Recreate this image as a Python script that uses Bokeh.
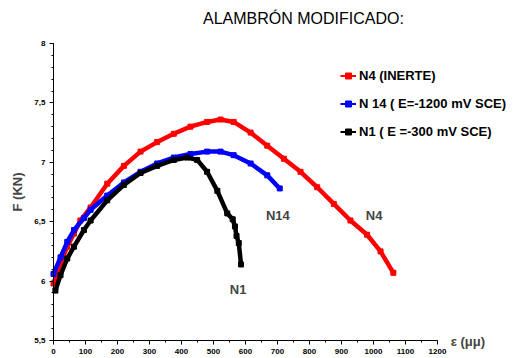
from bokeh.plotting import figure
from bokeh.models import Legend, LegendItem, Label, FixedTicker, LinearAxis
from bokeh.embed import file_html
from bokeh.resources import INLINE

# ---- data ----
n4_x = [0, 22, 43, 64, 84, 116, 168, 220, 272, 324, 376, 428, 480, 522, 563,
        616, 668, 720, 772, 824, 876, 928, 980, 1022, 1062]
n4_y = [5.98, 6.15, 6.29, 6.40, 6.51, 6.62, 6.82, 6.97, 7.09, 7.17, 7.24, 7.30, 7.34, 7.36, 7.34,
        7.25, 7.14, 7.03, 6.92, 6.79, 6.65, 6.51, 6.39, 6.25, 6.07]

n14_x = [0, 22, 43, 64, 95, 116, 168, 220, 272, 324, 376, 428, 480, 522, 563,
         616, 668, 707]
n14_y = [6.06, 6.20, 6.33, 6.43, 6.53, 6.60, 6.72, 6.83, 6.92, 6.99, 7.04, 7.07, 7.09, 7.09, 7.06,
         6.99, 6.89, 6.78]

n1_x = [6, 22, 43, 64, 95, 116, 168, 220, 272, 324, 376, 418, 449, 480, 512,
        543, 560, 567, 572, 579, 586]
n1_y = [5.92, 6.05, 6.19, 6.29, 6.43, 6.51, 6.68, 6.81, 6.91, 6.97, 7.02, 7.04, 7.02, 6.92, 6.76,
        6.57, 6.52, 6.46, 6.38, 6.32, 6.14]

names = ["N4 (INERTE)", "N 14 ( E=-1200 mV SCE)", "N1 ( E =-300 mV SCE)"]
colors = ["#ff0000", "#0000ff", "#000000"]

y_ticks = [5.5, 6, 6.5, 7, 7.5, 8]
y_tick_labels = ["5,5", "6", "6,5", "7", "7,5", "8"]
x_ticks = list(range(0, 1201, 100))

FONT = "Liberation Sans"

# frame covers the whole canvas; axes drawn at fixed data locations
p = figure(width=518, height=358, x_range=(-165.6, 1453.1), y_range=(5.3485, 8.362),
           output_backend="svg", toolbar_location=None,
           x_axis_location=None, y_axis_location=None,
           min_border_left=0, min_border_right=0, min_border_top=0, min_border_bottom=0)
p.outline_line_color = None
p.grid.visible = False
p.background_fill_color = "white"

xax = LinearAxis(fixed_location=5.5, bounds=(0, 1200),
                 ticker=FixedTicker(ticks=x_ticks, minor_ticks=list(range(0, 1201, 50))))
yax = LinearAxis(fixed_location=0, bounds=(5.5, 8),
                 ticker=FixedTicker(ticks=y_ticks,
                                    minor_ticks=[round(5.5 + 0.1 * i, 2) for i in range(26)]))
yax.major_label_overrides = {t: l for t, l in zip(y_ticks, y_tick_labels)}
for ax in (xax, yax):
    ax.axis_line_color = "black"
    ax.axis_line_width = 1
    ax.major_tick_line_color = "black"
    ax.minor_tick_line_color = "black"
    ax.major_tick_in = 0
    ax.major_tick_out = 4
    ax.minor_tick_in = 0
    ax.minor_tick_out = 2
    ax.major_label_text_font = FONT
    ax.major_label_text_font_style = "bold"
    ax.major_label_text_font_size = "8px"
    ax.major_label_text_color = "black"
xax.major_label_standoff = 4
yax.major_label_standoff = 4
yax.axis_label = "F (KN)"
yax.axis_label_text_font = FONT
yax.axis_label_text_font_style = "bold"
yax.axis_label_text_font_size = "13px"
yax.axis_label_standoff = 6
p.add_layout(xax, "below")
p.add_layout(yax, "left")

curve_renderers = []
for xs, ys, col in [(n4_x, n4_y, colors[0]), (n14_x, n14_y, colors[1]), (n1_x, n1_y, colors[2])]:
    ln = p.line(xs, ys, line_color=col, line_width=4.5)
    sc = p.scatter(xs, ys, marker="square", size=5, fill_color=col, line_color=col)
    curve_renderers.append((ln, sc))

# thinner legend glyphs: proxy renderers with a point far outside the view
leg_items = []
for name, col in zip(names, colors):
    lg = p.line([-5000, -4999], [0, 0], line_color=col, line_width=2)
    sg = p.scatter([-5000], [0], marker="square", size=4, fill_color=col, line_color=col)
    leg_items.append(LegendItem(label=name, renderers=[lg, sg]))

# legend: glyph from page x 340, items centred at page y 75 / 103 / 131
legend = Legend(items=leg_items, location=(340, 358 - 138.5), orientation="vertical",
                label_text_font=FONT, label_text_font_style="bold",
                label_text_font_size="13px", label_text_color="black",
                glyph_width=16, glyph_height=15, label_height=15,
                spacing=13, label_standoff=3, padding=0, margin=0,
                border_line_color=None, background_fill_alpha=0)
p.add_layout(legend, "center")

# texts
p.add_layout(Label(x=781, y=8.21, text="ALAMBRÓN MODIFICADO:", text_font=FONT,
                   text_font_size="16px", text_align="center", text_baseline="middle",
                   text_color="black"))
p.add_layout(Label(x=1241, y=5.49, text="ε (μμ)", text_font=FONT, text_font_style="bold",
                   text_font_size="13px", text_align="left", text_baseline="middle"))
for txt, xx, yy in [("N14", 701, 6.555), ("N4", 1002, 6.555), ("N1", 577, 5.93)]:
    p.add_layout(Label(x=xx, y=yy, text=txt, text_font=FONT, text_font_style="bold",
                       text_font_size="13px", text_align="center", text_baseline="middle"))

open("out.html", "w").write(file_html(p, INLINE))
